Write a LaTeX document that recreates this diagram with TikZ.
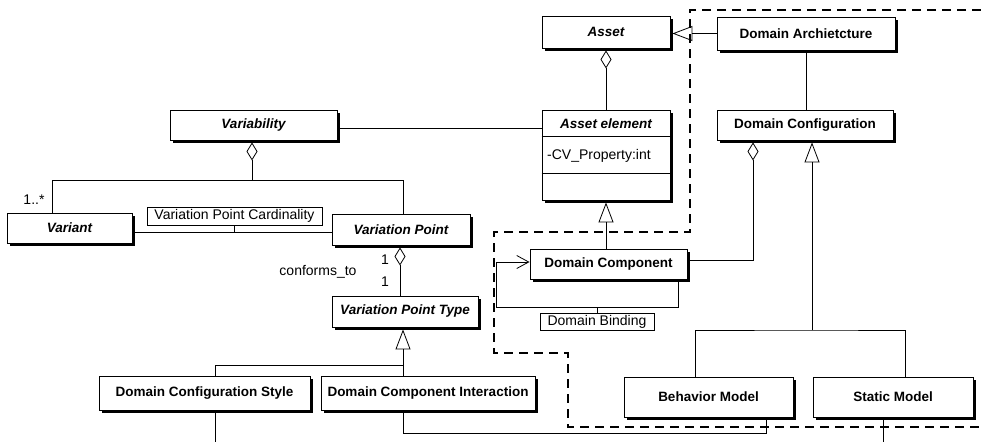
\documentclass[tikz,border=0pt]{standalone}
\usepackage{fontspec}
\newfontfamily\umlfont{Liberation Sans}
\usetikzlibrary{arrows.meta,shadows,calc}
\begin{document}
\begin{tikzpicture}[x=1pt,y=-1pt,
  cls/.style={draw, fill=white, line width=0.9pt, inner sep=0pt,
    general shadow={fill=black, shadow xshift=2.5pt, shadow yshift=-2.5pt},
    font=\umlfont\bfseries\fontsize{13.5}{15}\selectfont},
  abscls/.style={cls, font=\umlfont\bfseries\itshape\fontsize{13.5}{15}\selectfont},
  lbl/.style={draw, fill=white, line width=0.8pt, inner sep=0pt,
    font=\umlfont\fontsize{14}{16}\selectfont},
  txt/.style={inner sep=0pt, font=\umlfont\fontsize{14}{16}\selectfont},
  link/.style={line width=0.8pt},
  agg/.style={link, -{Diamond[open,length=18pt,width=11pt]}, shorten >=2pt},
  gen/.style={link, -{Triangle[open,length=20pt,width=15pt]}, shorten >=2pt},
  nav/.style={link, -{Straight Barb[length=12pt,width=13pt]}},
  boundary/.style={line width=1.3pt, dash pattern=on 9pt off 6pt},
]
\fill[white] (0,0) rectangle (981,442);
\useasboundingbox (0,0) rectangle (981,442);

% dashed package boundary
\draw[boundary] (981,10) -- (690,10) -- (690,232) -- (494,232) -- (494,353)
  -- (568,353) -- (568,427) -- (981,427);

% classes
\node[abscls, minimum width=128pt, minimum height=32pt] (asset) at (606,32) {Asset};
\node[cls, minimum width=178pt, minimum height=33pt] (da) at (806,33.5) {Domain Archietcture};
\node[cls, minimum width=128pt, minimum height=90pt] (ae) at (606,155) {};
\node[inner sep=0pt, font=\umlfont\bfseries\itshape\fontsize{13.5}{15}\selectfont] (aetitle) at (606,123.5) {Asset element};
\node[txt, anchor=west] (aeattr) at (547,156) {-CV\_Property:int};
\draw[line width=0.9pt] ($(ae.north west)+(0,27)$) -- ($(ae.north east)+(0,27)$);
\draw[line width=0.9pt] ($(ae.north west)+(0,64)$) -- ($(ae.north east)+(0,64)$);
\node[cls, minimum width=176pt, minimum height=30pt] (dconf) at (805,125) {Domain Configuration};
\node[abscls, minimum width=167pt, minimum height=30pt] (var) at (253.5,125) {Variability};
\node[abscls, minimum width=125pt, minimum height=30pt] (variant) at (69.5,228) {Variant};
\node[abscls, minimum width=138pt, minimum height=31pt] (vp) at (401,229.5) {Variation Point};
\node[abscls, minimum width=146pt, minimum height=31pt] (vpt) at (405,311.5) {Variation Point Type};
\node[cls, minimum width=157pt, minimum height=30pt] (dcomp) at (608.5,264) {Domain Component};
\node[cls, minimum width=211pt, minimum height=34pt] (dcs) at (204.5,393) {Domain Configuration Style};
\node[cls, minimum width=214pt, minimum height=34pt] (dci) at (428,393) {Domain Component Interaction};
\node[cls, minimum width=169pt, minimum height=40pt] (bm) at (708.5,397) {Behavior Model};
\node[cls, minimum width=160pt, minimum height=40pt] (sm) at (893,397) {Static Model};

% Asset and its parts
\draw[agg] (ae.north) -- (asset.south);
\draw[gen] (da.west) -- (da.west -| asset.east);
\draw[link] (da.south) -- (da.south |- dconf.north);
\coordinate (yva) at (0,128);
\draw[link] (var.east |- yva) -- (ae.west |- yva);

% Variability aggregation
\coordinate (xv) at (52,180);
\coordinate (jv) at (252,180);
\coordinate (xp) at (403,180);
\draw[agg] (jv) -- (jv |- var.south);
\draw[link] (variant.north -| xv) -- (xv) -- (xp) -- (xp |- vp.north);
\node[txt] (mult) at (34,200) {1..*};

% Variant -- Variation Point
\coordinate (yc) at (0,232);
\draw[link] (variant.east |- yc) -- (vp.west |- yc);
\node[lbl, minimum width=175pt, minimum height=18pt] (card) at (234.5,216) {Variation Point Cardinality};
\draw[link] (card.south) -- (card.south |- yc);

% Variation Point -- Variation Point Type
\coordinate (xd) at (400,0);
\draw[agg] (vpt.north -| xd) -- (vp.south -| xd);
\node[txt] (m1) at (385,260) {1};
\node[txt] (m2) at (385,282) {1};
\node[txt] (conf) at (318,272) {conforms\_to};

% Variation Point Type specialisations
\coordinate (jg) at (403,365);
\coordinate (xs) at (215,365);
\draw[gen] (jg) -- (jg |- vpt.south);
\draw[link] (dcs.north -| xs) -- (xs) -- (jg) -- (jg |- dci.north);

% Domain Component
\draw[gen] (dcomp.north -| ae.south) -- (ae.south);
\coordinate (xa) at (753,0);
\coordinate (ya) at (0,260);
\draw[agg] (dcomp.east |- ya) -| (xa |- dconf.south);
\coordinate (lb) at (496,307);
\coordinate (rb) at (678,307);
\coordinate (la) at (496,262);
\draw[nav] (dcomp.south -| rb) -- (rb) -- (lb) -- (la) -- (dcomp.west |- la);
\node[lbl, minimum width=114pt, minimum height=17pt] (bind) at (597,322) {Domain Binding};
\draw[link] (bind.north) -- (bind.north |- rb);

% Domain Configuration specialisations
\coordinate (jc) at (812,330);
\coordinate (xbm) at (695,0);
\coordinate (xsm) at (905,0);
\draw[gen] (jc) -- (jc |- dconf.south);
\draw[link] (bm.north -| xbm) |- (jc) -| (sm.north -| xsm);

% lower links
\coordinate (jb) at (766,433);
\draw[link] (dci.south -| jg) |- (jb) -- (jb |- bm.south);
\coordinate (dcsend) at (215,442);
\draw[link] (dcs.south -| dcsend) -- (dcsend);
\coordinate (smend) at (883,442);
\draw[link] (sm.south -| smend) -- (smend);
\end{tikzpicture}
\end{document}
